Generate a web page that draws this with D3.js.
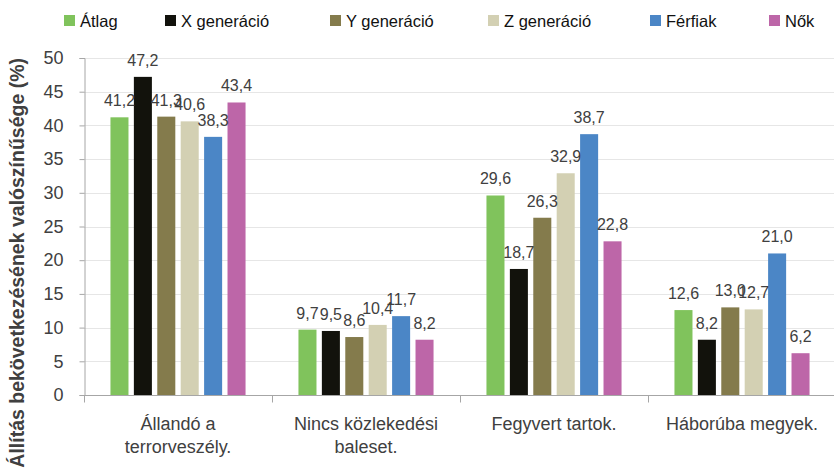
<!DOCTYPE html>
<html>
<head>
    <meta charset="utf-8">
    <style>
        body { margin: 0; background: #fff; }
        svg { display: block; font-family: 'Liberation Sans', Arial, sans-serif; }
    </style>
</head>
<body>
    <svg width="834" height="468"></svg>

<script src="https://d3js.org/d3.v7.min.js"></script>
<script>
    //------------------------ DATA ------------------------//
    let categories = [["Állandó a", "terrorveszély."], ["Nincs közlekedési", "baleset."], ["Fegyvert tartok."], ["Háborúba megyek."]];
    let seriesNames = ["Átlag", "X generáció", "Y generáció", "Z generáció", "Férfiak", "Nők"];
    let atlag   = [41.2, 9.7, 29.6, 12.6];
    let xGen    = [47.2, 9.5, 18.7, 8.2];
    let yGen    = [41.3, 8.6, 26.3, 13.0];
    let zGen    = [40.6, 10.4, 32.9, 12.7];
    let ferfiak = [38.3, 11.7, 38.7, 21.0];
    let nok     = [43.4, 8.2, 22.8, 6.2];
    let yTicks  = [0, 5, 10, 15, 20, 25, 30, 35, 40, 45, 50];
    let colors  = ["#80c35c", "#12120c", "#847b4c", "#d3d0b3", "#4b86c6", "#bd66a8"];

    let values = [atlag, xGen, yGen, zGen, ferfiak, nok];

    //------------------------ SETUP ------------------------//
    let svg = d3.select("svg");
    let margin = {left: 84, top: 58, bottom: 395};
    let catWidth = 188;

    let x0 = d3.scaleBand()
        .domain(d3.range(categories.length))
        .range([margin.left, margin.left + catWidth * categories.length]);

    let x1 = d3.scaleBand()
        .domain(seriesNames)
        .range([0, x0.bandwidth()])
        .paddingInner(0.23)
        .paddingOuter(1.13);

    let y = d3.scaleLinear()
        .domain([0, 50])
        .range([margin.bottom, margin.top]);

    let fmt = v => d3.format(".1f")(v).replace(".", ",");

    // gridlines
    svg.append("g")
        .selectAll("line")
        .data(yTicks.filter(d => d > 0))
        .join("line")
        .attr("x1", margin.left)
        .attr("x2", 834)
        .attr("y1", d => Math.round(y(d)) + 0.5)
        .attr("y2", d => Math.round(y(d)) + 0.5)
        .style("stroke", "#e6e6e6")
        .style("stroke-width", 1);

    // y axis
    let yAxis = svg.append("g")
        .attr("transform", "translate(" + (margin.left + 0.5) + ",0)")
        .call(d3.axisLeft(y).tickValues(yTicks).tickSize(5).tickPadding(16).tickFormat(d => d));
    yAxis.select(".domain").style("stroke", "#a6a6a6");
    yAxis.selectAll(".tick line").style("stroke", "#a6a6a6");
    yAxis.selectAll(".tick text")
        .style("font-size", "18px")
        .style("fill", "#404040")
        .style("font-family", "'Liberation Sans', Arial, sans-serif");

    // x axis line with category ticks
    let xAxis = svg.append("g")
        .attr("transform", "translate(0," + (margin.bottom + 0.5) + ")");
    xAxis.append("line")
        .attr("x1", margin.left)
        .attr("x2", 834)
        .style("stroke", "#a6a6a6");
    xAxis.selectAll(".ctick")
        .data(d3.range(categories.length + 1))
        .join("line")
        .attr("x1", d => Math.round(margin.left + d * catWidth) + 0.5)
        .attr("x2", d => Math.round(margin.left + d * catWidth) + 0.5)
        .attr("y1", 0)
        .attr("y2", 7)
        .style("stroke", "#a6a6a6");

    // category labels
    let catLabels = svg.append("g")
        .selectAll("text")
        .data(categories)
        .join("text")
        .attr("x", (d, i) => x0(i) + x0.bandwidth() / 2)
        .attr("y", 430)
        .attr("text-anchor", "middle")
        .style("font-size", "18px")
        .style("fill", "#404040");
    catLabels.selectAll("tspan")
        .data(d => d)
        .join("tspan")
        .attr("x", function() { return this.parentNode.getAttribute("x"); })
        .attr("dy", (d, i) => i === 0 ? 0 : 23)
        .text(d => d);

    // bars
    let groups = svg.append("g")
        .selectAll("g")
        .data(seriesNames)
        .join("g")
        .style("fill", (d, i) => colors[i]);

    groups.selectAll("rect")
        .data((s, si) => values[si].map((v, ci) => ({s: s, ci: ci, v: v})))
        .join("rect")
        .attr("x", d => x0(d.ci) + x1(d.s))
        .attr("width", x1.bandwidth())
        .attr("y", d => y(d.v))
        .attr("height", d => y(0) - y(d.v));

    // value labels
    let labels = svg.append("g")
        .selectAll("g")
        .data(seriesNames)
        .join("g");
    labels.selectAll("text")
        .data((s, si) => values[si].map((v, ci) => ({s: s, ci: ci, v: v})))
        .join("text")
        .attr("x", d => x0(d.ci) + x1(d.s) + x1.bandwidth() / 2)
        .attr("y", d => y(d.v) - 11)
        .attr("text-anchor", "middle")
        .style("font-size", "16px")
        .style("fill", "#404040")
        .text(d => fmt(d.v));

    // legend
    let legendX = [64, 165, 330, 488, 650, 769];
    let legend = svg.append("g")
        .selectAll("g")
        .data(seriesNames)
        .join("g")
        .attr("transform", (d, i) => "translate(" + legendX[i] + ",21)");
    legend.append("rect")
        .attr("x", 0)
        .attr("y", -6)
        .attr("width", 11)
        .attr("height", 11)
        .style("fill", (d, i) => colors[i]);
    legend.append("text")
        .attr("x", 16)
        .attr("y", 6)
        .style("font-size", "16.5px")
        .style("fill", "#111")
        .text(d => d);

    // y axis title
    svg.append("text")
        .attr("transform", "translate(24,58) rotate(-90)")
        .attr("text-anchor", "end")
        .style("font-size", "19.5px")
        .style("font-weight", "bold")
        .style("fill", "#404040")
        .text("Állítás bekövetkezésének valószínűsége (%)");
</script>
</body>
</html>
